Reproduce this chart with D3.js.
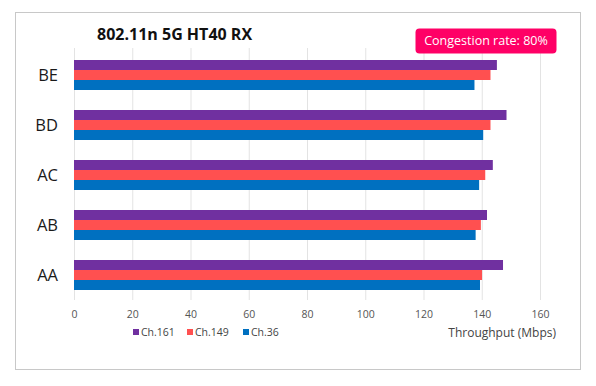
<!DOCTYPE html>
<html>
<head>
<meta charset="utf-8">
<script src="https://cdn.jsdelivr.net/npm/d3@7"></script>
<style>
  body { margin: 0; background: #fff; }
  svg { font-family: "Open Sans", "Liberation Sans", sans-serif; }
</style>
</head>
<body>
<svg width="596" height="386"></svg>
<script>
let categories = ["BE", "BD", "AC", "AB", "AA"];
let seriesNames = ["Ch.161", "Ch.149", "Ch.36"];
let ch161 = [145.2, 148.5, 143.8, 141.8, 147.3];
let ch149 = [143.0, 143.0, 141.2, 139.7, 140.1];
let ch36 = [137.5, 140.5, 139.1, 137.9, 139.4];
let xTicks = [0, 20, 40, 60, 80, 100, 120, 140, 160];
let colors = ["#7030A0", "#FF5050", "#0070C0"];

let svg = d3.select("svg");

let pLeft = 74, pRight = 540, pTop = 50, pBottom = 300;

// frame
svg.append("rect")
    .attr("x", 15.5).attr("y", 12.5)
    .attr("width", 565).attr("height", 357)
    .attr("fill", "#fff")
    .attr("stroke", "#c8c8c8");

let xScale = d3.scaleLinear().domain([0, 160]).range([pLeft, pRight]);
let yScale = d3.scaleBand().domain(categories).range([pTop, pBottom]).paddingInner(0.4).paddingOuter(0.2);
let inner = d3.scaleBand().domain(seriesNames).range([0, yScale.bandwidth()]);

// gridlines
svg.append("g")
    .selectAll("line")
    .data(xTicks)
    .enter()
    .append("line")
    .attr("x1", d => xScale(d) + 0.5)
    .attr("x2", d => xScale(d) + 0.5)
    .attr("y1", pTop - 2)
    .attr("y2", pBottom)
    .attr("stroke", "#e3e3e3");

let data = categories.map((c, i) => ({cat: c, vals: [ch161[i], ch149[i], ch36[i]]}));

let groups = svg.selectAll(".grp")
    .data(data)
    .enter()
    .append("g")
    .attr("transform", d => "translate(0," + yScale(d.cat) + ")");

groups.selectAll("rect")
    .data(d => d.vals.map((v, j) => ({name: seriesNames[j], v: v, j: j})))
    .enter()
    .append("rect")
    .attr("x", xScale(0))
    .attr("y", d => inner(d.name))
    .attr("width", d => xScale(d.v) - xScale(0))
    .attr("height", inner.bandwidth())
    .attr("fill", d => colors[d.j]);

// category labels
svg.selectAll(".cat")
    .data(categories)
    .enter()
    .append("text")
    .attr("x", 58)
    .attr("y", d => yScale(d) + yScale.bandwidth() / 2)
    .attr("dy", "0.35em")
    .attr("text-anchor", "end")
    .attr("font-size", 16.5)
    .attr("fill", "#1a1a1a")
    .text(d => d);

// x axis labels
let xAxis = d3.axisBottom(xScale).tickValues(xTicks).tickSize(0).tickPadding(10);
let ax = svg.append("g")
    .attr("transform", "translate(0," + (pBottom + 1) + ")")
    .call(xAxis);
ax.select(".domain").remove();
ax.selectAll("text").attr("font-size", 10.5).attr("fill", "#555").attr("font-family", "'Open Sans', sans-serif");

// title
svg.append("text")
    .attr("x", 97).attr("y", 40)
    .attr("font-size", 16)
    .attr("font-weight", "bold")
    .attr("fill", "#111")
    .text("802.11n 5G HT40 RX");

// congestion badge
svg.append("rect")
    .attr("x", 415.5).attr("y", 28.5)
    .attr("width", 141).attr("height", 25)
    .attr("rx", 4)
    .attr("fill", "#FF0066");
svg.append("text")
    .attr("x", 486).attr("y", 41)
    .attr("dy", "0.35em")
    .attr("text-anchor", "middle")
    .attr("font-size", 12.5)
    .attr("fill", "#fff")
    .text("Congestion rate: 80%");

// legend
let legendX = [133, 187, 243];
let leg = svg.selectAll(".leg")
    .data(seriesNames)
    .enter()
    .append("g")
    .attr("transform", (d, i) => "translate(" + legendX[i] + ",329)");
leg.append("rect")
    .attr("width", 6).attr("height", 6)
    .attr("fill", (d, i) => colors[i]);
leg.append("text")
    .attr("x", 8).attr("y", 3)
    .attr("dy", "0.35em")
    .attr("font-size", 10.5)
    .attr("fill", "#444")
    .text(d => d);

// axis title
svg.append("text")
    .attr("x", 556).attr("y", 333)
    .attr("dy", "0.35em")
    .attr("text-anchor", "end")
    .attr("font-size", 12)
    .attr("fill", "#444")
    .text("Throughput (Mbps)");
</script>
</body>
</html>
